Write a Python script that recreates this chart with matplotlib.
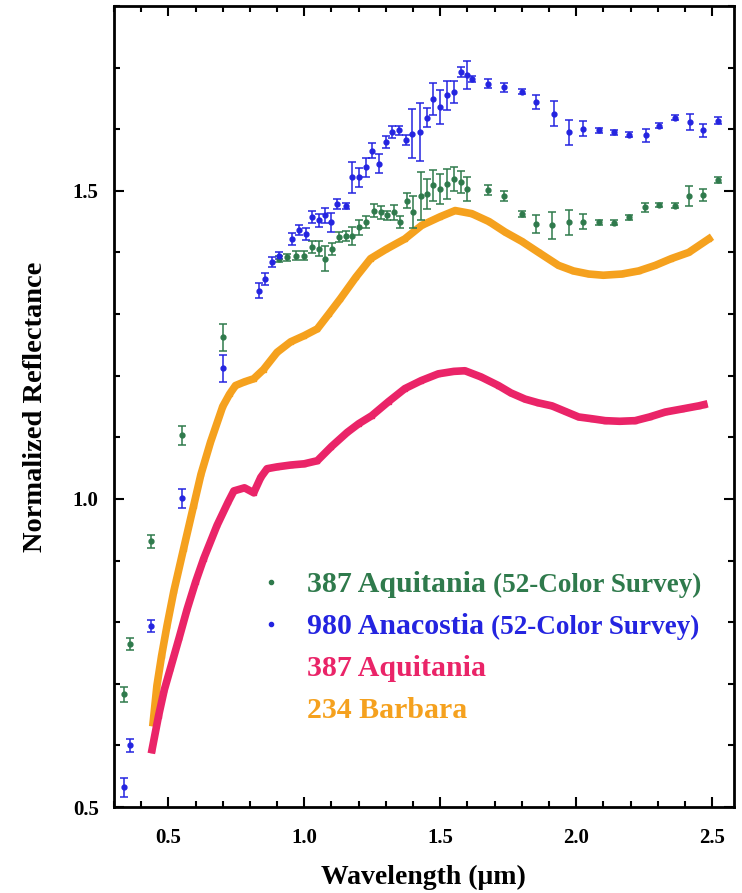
import matplotlib
matplotlib.use("Agg")
import matplotlib.pyplot as plt
from matplotlib.lines import Line2D
from matplotlib.ticker import MultipleLocator

plt.rcParams['font.family'] = ['Liberation Serif', 'DejaVu Serif']
plt.rcParams['font.weight'] = 'bold'

# 387 Aquitania, 52-Color Survey (ECAS points first)
aq52_x = [0.337, 0.359, 0.437, 0.550, 0.701,
          0.906, 0.937, 0.968, 0.998, 1.029, 1.054, 1.078, 1.103, 1.127, 1.152,
          1.177, 1.201, 1.226, 1.256, 1.281, 1.305, 1.33, 1.352, 1.377, 1.401,
          1.428, 1.453, 1.475, 1.499, 1.524, 1.551, 1.575, 1.6, 1.674, 1.735,
          1.799, 1.854, 1.913, 1.974, 2.027, 2.085, 2.14, 2.195, 2.253, 2.306,
          2.365, 2.416, 2.468, 2.521]
aq52_y = [0.683, 0.765, 0.931, 1.103, 1.262,
          1.39, 1.392, 1.395, 1.395, 1.409, 1.406, 1.39, 1.406, 1.425, 1.427,
          1.427, 1.441, 1.449, 1.468, 1.465, 1.46, 1.465, 1.449, 1.484, 1.465,
          1.492, 1.495, 1.509, 1.503, 1.511, 1.519, 1.514, 1.503, 1.501, 1.492,
          1.463, 1.446, 1.444, 1.449, 1.45, 1.449, 1.448, 1.457, 1.473, 1.477,
          1.476, 1.492, 1.493, 1.517]
aq52_err = [0.012, 0.01, 0.01, 0.015, 0.022,
            0.005, 0.006, 0.008, 0.008, 0.01, 0.012, 0.02, 0.01, 0.008, 0.008,
            0.015, 0.012, 0.01, 0.01, 0.01, 0.008, 0.012, 0.01, 0.012, 0.026,
            0.039, 0.025, 0.025, 0.025, 0.025, 0.02, 0.018, 0.02, 0.008, 0.008,
            0.005, 0.015, 0.022, 0.02, 0.012, 0.004, 0.004, 0.004, 0.008, 0.004,
            0.004, 0.016, 0.01, 0.005]

# 980 Anacostia, 52-Color Survey (ECAS points first)
an52_x = [0.337, 0.359, 0.437, 0.550, 0.701,
          0.833, 0.857, 0.882, 0.906, 0.956, 0.98, 1.005, 1.029, 1.054, 1.078,
          1.097, 1.121, 1.152, 1.177, 1.201, 1.226, 1.25, 1.275, 1.299, 1.324,
          1.348, 1.373, 1.398, 1.426, 1.453, 1.475, 1.499, 1.524, 1.551, 1.575,
          1.6, 1.618, 1.674, 1.735, 1.799, 1.854, 1.917, 1.974, 2.027, 2.085,
          2.14, 2.195, 2.257, 2.306, 2.365, 2.419, 2.468, 2.521]
an52_y = [0.532, 0.60, 0.794, 1.001, 1.212,
          1.338, 1.357, 1.384, 1.395, 1.422, 1.436, 1.43, 1.457, 1.452, 1.46,
          1.449, 1.479, 1.476, 1.522, 1.522, 1.538, 1.565, 1.544, 1.579, 1.595,
          1.598, 1.582, 1.593, 1.595, 1.619, 1.649, 1.636, 1.655, 1.66, 1.693,
          1.688, 1.682, 1.674, 1.668, 1.661, 1.644, 1.625, 1.595, 1.601, 1.598,
          1.595, 1.591, 1.59, 1.606, 1.619, 1.611, 1.598, 1.614]
an52_err = [0.015, 0.01, 0.01, 0.015, 0.022,
            0.012, 0.01, 0.008, 0.006, 0.01, 0.008, 0.01, 0.01, 0.01, 0.012,
            0.015, 0.008, 0.005, 0.025, 0.015, 0.015, 0.012, 0.015, 0.01, 0.01,
            0.008, 0.008, 0.039, 0.047, 0.016, 0.026, 0.028, 0.024, 0.018, 0.008,
            0.023, 0.005, 0.007, 0.007, 0.004, 0.012, 0.02, 0.02, 0.012, 0.004,
            0.004, 0.004, 0.01, 0.004, 0.004, 0.013, 0.01, 0.006]

# 387 Aquitania spectrum
aq_x = [0.44, 0.464, 0.485, 0.507, 0.54, 0.569, 0.60, 0.63, 0.679, 0.72,
        0.741, 0.78, 0.814, 0.84, 0.863, 0.90, 0.95, 1.0, 1.048, 1.1,
        1.158, 1.20, 1.248, 1.31, 1.37, 1.43, 1.493, 1.55, 1.591, 1.65,
        1.714, 1.76, 1.812, 1.86, 1.911, 1.96, 2.009, 2.06, 2.107, 2.16,
        2.217, 2.27, 2.328, 2.39, 2.451, 2.47]
aq_y = [0.593, 0.648, 0.69, 0.724, 0.775, 0.821, 0.865, 0.903, 0.957, 0.995,
        1.013, 1.018, 1.01, 1.035, 1.049, 1.052, 1.055, 1.057, 1.062, 1.085,
        1.108, 1.122, 1.135, 1.158, 1.179, 1.192, 1.203, 1.207, 1.208, 1.198,
        1.184, 1.172, 1.162, 1.156, 1.151, 1.142, 1.133, 1.13, 1.127, 1.126,
        1.127, 1.133, 1.141, 1.146, 1.151, 1.153]

# 234 Barbara spectrum
ba_x = [0.444, 0.458, 0.475, 0.495, 0.52, 0.556, 0.593, 0.62, 0.655, 0.70,
        0.725, 0.747, 0.78, 0.814, 0.85, 0.90, 0.95, 1.0, 1.048, 1.09,
        1.133, 1.19, 1.244, 1.30, 1.37, 1.432, 1.50, 1.555, 1.616, 1.68,
        1.739, 1.80, 1.862, 1.935, 1.99, 2.046, 2.10, 2.168, 2.23, 2.291,
        2.35, 2.414, 2.488]
ba_y = [0.637, 0.697, 0.745, 0.794, 0.85, 0.919, 0.989, 1.04, 1.092, 1.15,
        1.17, 1.184, 1.19, 1.195, 1.21, 1.238, 1.255, 1.265, 1.276, 1.30,
        1.325, 1.36, 1.39, 1.405, 1.422, 1.444, 1.458, 1.468, 1.463, 1.45,
        1.433, 1.418, 1.40, 1.379, 1.37, 1.365, 1.363, 1.365, 1.37, 1.379,
        1.39, 1.40, 1.422]

GREEN = '#2f7a4c'
BLUE = '#2424e0'
PINK = '#ea2468'
ORANGE = '#f5a11e'

fig = plt.figure(figsize=(7.42, 8.93), dpi=100)
ax = fig.add_axes([0.1536, 0.0963, 0.8354, 0.897])

ax.plot(ba_x, ba_y, color=ORANGE, lw=5.5, marker='s', ms=3, solid_joinstyle='round')
ax.plot(aq_x, aq_y, color=PINK, lw=5.5, marker='s', ms=3, solid_joinstyle='round')
ax.errorbar(aq52_x, aq52_y, yerr=aq52_err, fmt='o', ms=3.5, color=GREEN,
            elinewidth=1.1, capsize=3, capthick=1.1)
ax.errorbar(an52_x, an52_y, yerr=an52_err, fmt='o', ms=3.5, color=BLUE,
            elinewidth=1.1, capsize=3, capthick=1.1)

ax.set_xlim(0.3, 2.58)
ax.set_ylim(0.5, 1.8)
ax.xaxis.set_minor_locator(MultipleLocator(0.1))
ax.yaxis.set_minor_locator(MultipleLocator(0.1))
ax.set_xticks([0.5, 1.0, 1.5, 2.0, 2.5])
ax.set_xticklabels(['0.5', '1.0', '1.5', '2.0', '2.5'])
ax.set_yticks([0.5, 1.0, 1.5])
ax.set_yticklabels(['0.5', '1.0', '1.5'])
ax.tick_params(which='both', direction='in', top=True, right=True, width=1.5,
               labelsize=15)
ax.tick_params(axis='x', pad=15)
ax.tick_params(axis='y', pad=11)
ax.tick_params(which='major', length=7)
ax.tick_params(which='minor', length=4)
for sp in ax.spines.values():
    sp.set_linewidth(2)

ax.set_xlabel('Wavelength (\u03bcm)', fontsize=20, fontweight='bold', labelpad=12)
ax.set_ylabel('Normalized Reflectance', fontsize=20.5, fontweight='bold', labelpad=18)

handles = [Line2D([], [], ls='none', marker='o', ms=3, color=GREEN),
           Line2D([], [], ls='none', marker='o', ms=3, color=BLUE),
           Line2D([], [], ls='none', marker='none', color=PINK),
           Line2D([], [], ls='none', marker='none', color=ORANGE)]
labels = ['387 Aquitania', '980 Anacostia', '387 Aquitania', '234 Barbara']
leg = ax.legend(handles, labels, loc='upper left', bbox_to_anchor=(0.205, 0.313),
                frameon=False, borderpad=0, handlelength=1.0, handletextpad=0.7,
                labelspacing=0.5, prop={'size': 21.5, 'weight': 'bold'})
for txt, c in zip(leg.get_texts(), [GREEN, BLUE, PINK, ORANGE]):
    txt.set_color(c)

fig.canvas.draw()
for txt, c in zip(leg.get_texts()[:2], [GREEN, BLUE]):
    ax.annotate('(52-Color Survey)', xy=(1, 0), xycoords=txt,
                xytext=(5, 0), textcoords='offset points',
                va='bottom', ha='left', fontsize=19.5, fontweight='bold', color=c)

fig.savefig('out.png', dpi=100)
